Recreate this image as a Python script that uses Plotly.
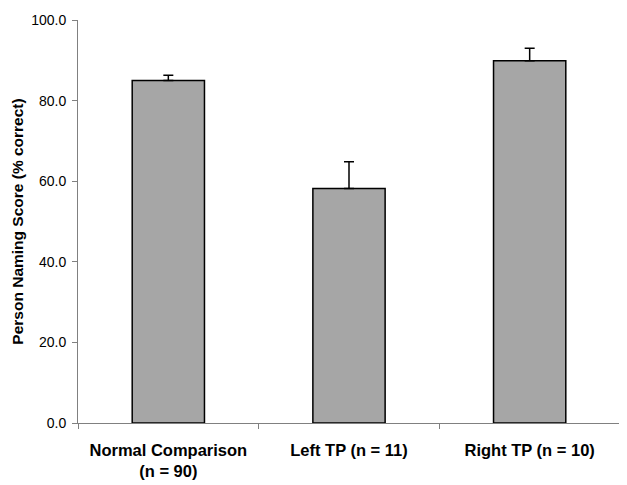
import plotly.graph_objects as go

categories = ["Normal Comparison<br>(n = 90)", "Left TP (n = 11)", "Right TP (n = 10)"]
scores = [85.0, 58.2, 89.9]
errors = [1.3, 6.6, 3.1]
y_ticks = [0, 20, 40, 60, 80, 100]

fig = go.Figure()
fig.add_trace(go.Bar(
    x=categories,
    y=scores,
    width=0.4,
    marker=dict(color="#A6A6A6", line=dict(color="#000000", width=1.5)),
    error_y=dict(type="data", array=errors, arrayminus=[0, 0, 0], symmetric=False,
                 color="#000000", thickness=1.5, width=5),
))

fig.update_layout(
    width=627, height=485,
    margin=dict(l=70, r=15, t=12, b=70, autoexpand=False),
    paper_bgcolor="white", plot_bgcolor="white",
    font=dict(family="Liberation Sans, Arial, sans-serif", color="#000000"),
    showlegend=False,
    bargap=0.6,
)
fig.update_xaxes(
    type="category", range=[-0.5, 2.5], automargin=False,
    showline=True, linecolor="#808080", linewidth=1,
    ticks="outside", tickson="boundaries", ticklen=5, tickcolor="#808080",
    showgrid=False,
    tickfont=dict(size=16.5, family="Liberation Sans, Arial, sans-serif", color="#000000"),
    ticktext=["<b>Normal Comparison</b><br><b>(n = 90)</b>", "<b>Left TP (n = 11)</b>", "<b>Right TP (n = 10)</b>"],
    tickvals=categories,
    ticklabelstandoff=12,
)
fig.update_yaxes(
    range=[0, 100], tickvals=y_ticks, tickformat=".1f", automargin=False,
    showline=True, linecolor="#808080", linewidth=1,
    ticks="outside", ticklen=5, tickcolor="#808080",
    showgrid=False, zeroline=False,
    tickfont=dict(size=14, color="#000000"),
    ticklabelstandoff=3,
    title=dict(text="<b>Person Naming Score (% correct)</b>", font=dict(size=15.5, color="#000000"), standoff=3),
)

fig.write_html("out.html")
